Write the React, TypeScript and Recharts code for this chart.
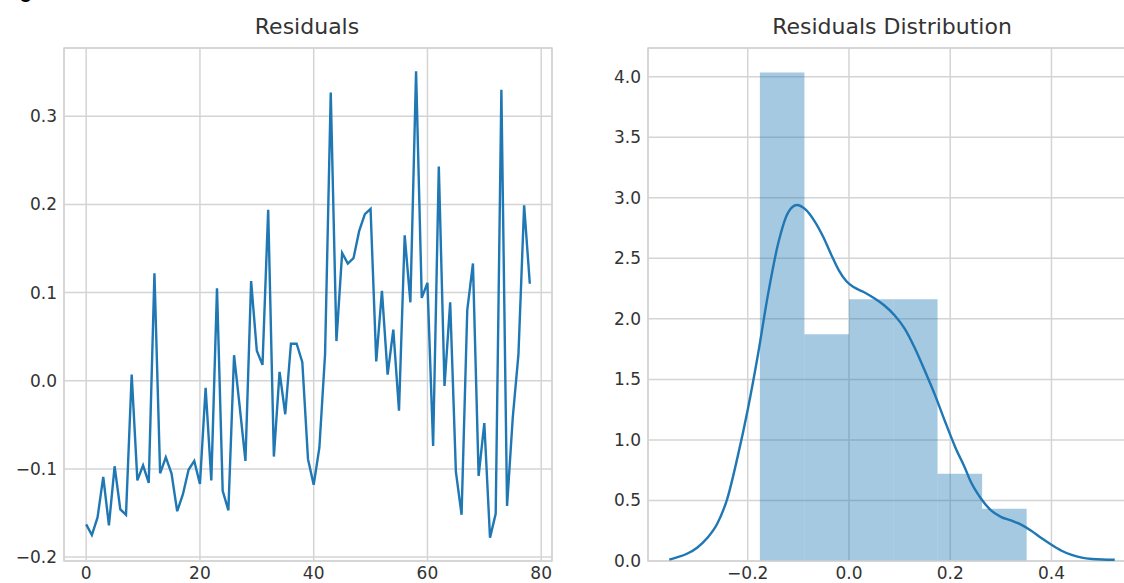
import React from 'react';
import {
  LineChart,
  ComposedChart,
  Line,
  XAxis,
  YAxis,
  CartesianGrid,
  ReferenceArea
} from 'recharts';

const residuals = [
  -0.163, -0.175, -0.155, -0.109, -0.164, -0.097, -0.146, -0.152, 0.007, -0.113,
  -0.096, -0.116, 0.122, -0.105, -0.087, -0.105, -0.148, -0.129, -0.101, -0.091,
  -0.117, -0.008, -0.113, 0.105, -0.125, -0.147, 0.029, -0.030, -0.091, 0.113,
  0.034, 0.018, 0.194, -0.086, 0.010, -0.038, 0.042, 0.042, 0.021, -0.089,
  -0.118, -0.076, 0.030, 0.327, 0.045, 0.145, 0.133, 0.139, 0.170, 0.189,
  0.195, 0.022, 0.102, 0.007, 0.058, -0.034, 0.165, 0.089, 0.351, 0.094,
  0.111, -0.074, 0.243, -0.006, 0.089, -0.103, -0.152, 0.080, 0.133, -0.108,
  -0.048, -0.178, -0.151, 0.330, -0.142, -0.042, 0.030, 0.199, 0.110
];

// histogram (density) of the residuals
const binEdges = [-0.176, -0.088, 0.0, 0.088, 0.175, 0.263, 0.351];
const binDensity = [4.035, 1.873, 2.162, 2.162, 0.721, 0.432];

// kde curve
const kdeX = [
  -0.355, -0.34, -0.32, -0.30, -0.28, -0.26, -0.24, -0.22, -0.20, -0.18,
  -0.16, -0.14, -0.12, -0.103, -0.085, -0.07, -0.05, -0.035, -0.02, -0.005,
  0.01, 0.03, 0.05, 0.07, 0.09, 0.11, 0.13, 0.15, 0.17, 0.19,
  0.21, 0.23, 0.24, 0.26, 0.28, 0.30, 0.32, 0.34, 0.36, 0.38,
  0.40, 0.42, 0.44, 0.46, 0.48, 0.50, 0.525
];
const kdeY = [
  0.012, 0.03, 0.06, 0.11, 0.19, 0.31, 0.52, 0.86, 1.25, 1.70,
  2.2, 2.62, 2.88, 2.94, 2.9, 2.82, 2.67, 2.53, 2.4, 2.31,
  2.26, 2.22, 2.17, 2.11, 2.03, 1.92, 1.76, 1.57, 1.37, 1.15,
  0.94, 0.76, 0.66, 0.52, 0.42, 0.365, 0.335, 0.3, 0.25, 0.19,
  0.135, 0.085, 0.05, 0.028, 0.017, 0.012, 0.01
];

const lineTicksX = [0, 20, 40, 60, 80];
const lineTicksY = [-0.2, -0.1, 0.0, 0.1, 0.2, 0.3];
const distTicksX = [-0.2, 0.0, 0.2, 0.4];
const distTicksY = [0.0, 0.5, 1.0, 1.5, 2.0, 2.5, 3.0, 3.5, 4.0];

const FONT = '"DejaVu Sans", sans-serif';
const GRID = '#d4d4d4';
const BLUE = '#1f77b4';
const TEXT = '#333333';

const fmt = (v: number) => (v < 0 ? '\u2212' + Math.abs(v).toFixed(1) : v.toFixed(1));
const fmtInt = (v: number) => String(v);

const tickStyle = { fill: TEXT, fontSize: 17, fontFamily: FONT };

const lineData = residuals.map((r, i) => ({ i, r }));
const kdeData = kdeX.map((v, k) => ({ v, d: kdeY[k] }));

const LX: [number, number] = [-3.9, 81.9];
const LY: [number, number] = [-0.2045, 0.3775];
const RX: [number, number] = [-0.397, 0.569];
const RY: [number, number] = [0, 4.237];

const Title = ({ text, center }: { text: string; center: number }) => (
  <div
    style={{
      position: 'absolute',
      top: 16,
      left: center - 200,
      width: 400,
      textAlign: 'center',
      fontFamily: FONT,
      fontSize: 22,
      lineHeight: '22px',
      color: TEXT
    }}
  >
    {text}
  </div>
);

const App: React.FC = () => {
  return (
    <div
      style={{
        position: 'absolute',
        left: 0,
        top: 0,
        width: 1124,
        height: 583,
        overflow: 'hidden',
        background: '#fff'
      }}
    >
      {/* caption of the figure above, mostly scrolled out of view in the original */}
      <div
        style={{
          position: 'absolute',
          left: 2,
          top: -20,
          fontFamily: '"Liberation Sans", sans-serif',
          fontWeight: 'bold',
          fontSize: 20,
          lineHeight: '22px',
          color: '#000'
        }}
      >
        Figure 5: Residuals
      </div>

      <Title text="Residuals" center={307} />
      <Title text="Residuals Distribution" center={892} />

      <div style={{ position: 'absolute', left: 0, top: 0 }}>
        <LineChart
          width={560}
          height={583}
          data={lineData}
          margin={{ top: 48, right: 8, bottom: 0, left: 0 }}
        >
          <CartesianGrid stroke={GRID} strokeWidth={1.5} />
          <XAxis
            dataKey="i"
            type="number"
            domain={LX}
            ticks={lineTicksX}
            tickFormatter={fmtInt}
            allowDataOverflow
            axisLine={false}
            tickLine={false}
            tickSize={0}
            tickMargin={6}
            height={22}
            tick={tickStyle}
            interval={0}
          />
          <YAxis
            type="number"
            domain={LY}
            ticks={lineTicksY}
            tickFormatter={fmt}
            allowDataOverflow
            axisLine={false}
            tickLine={false}
            tickSize={0}
            tickMargin={7}
            width={64}
            tick={tickStyle}
            interval={0}
          />
          <ReferenceArea
            x1={LX[0]}
            x2={LX[1]}
            y1={LY[0]}
            y2={LY[1]}
            fill="none"
            stroke={GRID}
            strokeWidth={1.5}
            ifOverflow="visible"
          />
          <Line
            type="linear"
            dataKey="r"
            stroke={BLUE}
            strokeWidth={2.4}
            dot={false}
            activeDot={false}
            isAnimationActive={false}
          />
        </LineChart>
      </div>

      <div style={{ position: 'absolute', left: 580, top: 0 }}>
        <ComposedChart
          width={560}
          height={583}
          data={kdeData}
          margin={{ top: 48, right: 3, bottom: 0, left: 0 }}
        >
          <CartesianGrid stroke={GRID} strokeWidth={1.5} />
          <XAxis
            dataKey="v"
            type="number"
            domain={RX}
            ticks={distTicksX}
            tickFormatter={fmt}
            allowDataOverflow
            axisLine={false}
            tickLine={false}
            tickSize={0}
            tickMargin={6}
            height={22}
            tick={tickStyle}
            interval={0}
          />
          <YAxis
            type="number"
            domain={RY}
            ticks={distTicksY}
            tickFormatter={fmt}
            allowDataOverflow
            axisLine={false}
            tickLine={false}
            tickSize={0}
            tickMargin={7}
            width={68}
            tick={tickStyle}
            interval={0}
          />
          {binDensity.map((d, k) => (
            <ReferenceArea
              key={`bin-${k}`}
              x1={binEdges[k]}
              x2={binEdges[k + 1]}
              y1={0}
              y2={d}
              fill={BLUE}
              fillOpacity={0.4}
              stroke="none"
            />
          ))}
          <ReferenceArea
            x1={RX[0]}
            x2={RX[1]}
            y1={RY[0]}
            y2={RY[1]}
            fill="none"
            stroke={GRID}
            strokeWidth={1.5}
            ifOverflow="visible"
          />
          <Line
            type="monotone"
            dataKey="d"
            stroke={BLUE}
            strokeWidth={2.4}
            dot={false}
            activeDot={false}
            isAnimationActive={false}
          />
        </ComposedChart>
      </div>
    </div>
  );
};

export default App;
